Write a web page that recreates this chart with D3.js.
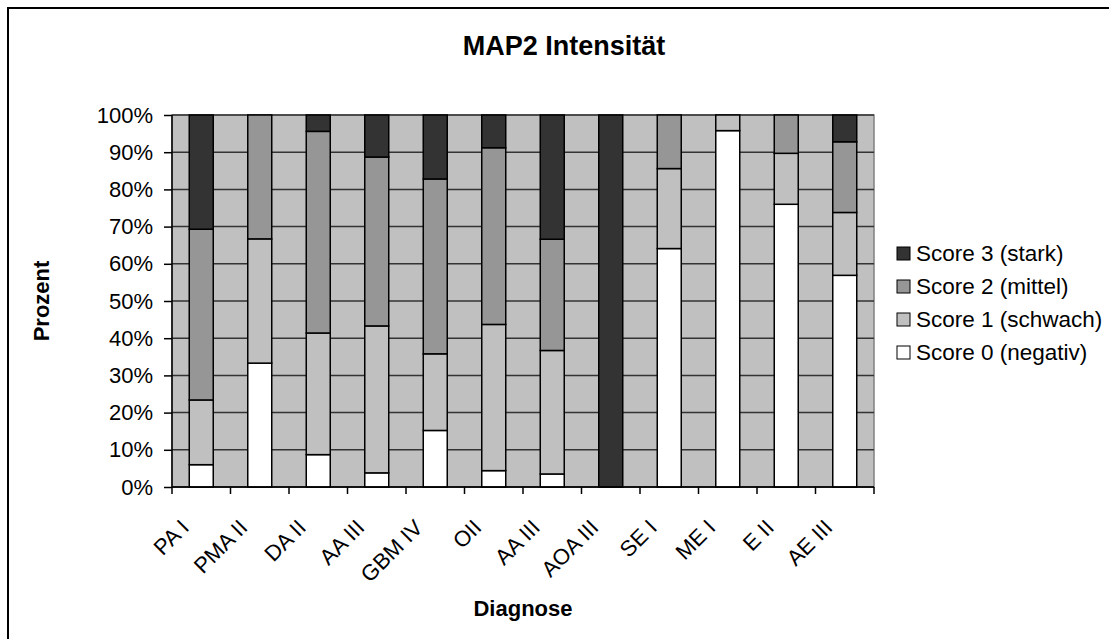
<!DOCTYPE html>
<html>
<head>
<meta charset="utf-8">
<script src="https://cdn.jsdelivr.net/npm/d3@7"></script>
<style>
  body { margin: 0; background: white; }
  svg { display: block; font-family: "Liberation Sans", Arial, sans-serif; }
  .axis text { font-size: 22px; fill: black; }
  .axis path, .axis line { stroke: black; stroke-width: 1.5; }
</style>
</head>
<body>
<div id="grafica"></div>
<script>
// datos (% por diagnóstico)
const diagnosen = ["PA I", "PMA II", "DA II", "AA III", "GBM IV", "OII", "AA III ", "AOA III", "SE I", "ME I", "E II", "AE III"]
const score0 = [6.0, 33.3, 8.7, 3.8, 15.2, 4.4, 3.5, 0, 64.1, 95.8, 76.0, 56.9]
const score1 = [17.4, 33.4, 32.7, 39.5, 20.6, 39.3, 33.2, 0, 21.5, 4.2, 13.7, 16.9]
const score2 = [45.9, 33.3, 54.2, 45.4, 47.0, 47.5, 29.9, 0, 14.4, 0, 10.3, 19.0]
const score3 = [30.7, 0, 4.4, 11.3, 17.2, 8.8, 33.4, 100, 0, 0, 0, 7.2]
const serien = ["Score 0 (negativ)", "Score 1 (schwach)", "Score 2 (mittel)", "Score 3 (stark)"]
const farben = ["#ffffff", "#c0c0c0", "#969696", "#333333"]
const yTicks = [0, 10, 20, 30, 40, 50, 60, 70, 80, 90, 100]

const anchoTotal = 1109
const altoTotal = 639
const margins = { top: 115, left: 172, right: 235, bottom: 152 }
const ancho = anchoTotal - margins.left - margins.right
const alto = altoTotal - margins.top - margins.bottom

const svg = d3.select("#grafica")
  .append("svg")
  .attr("width", anchoTotal)
  .attr("height", altoTotal)

// marco del gráfico
svg.append("rect")
  .attr("x", 8).attr("y", 8)
  .attr("width", 1120).attr("height", 660)
  .attr("fill", "white")
  .attr("stroke", "black")
  .attr("stroke-width", 2)

const g = svg.append("g")
  .attr("transform", `translate(${margins.left}, ${margins.top})`)

const data = diagnosen.map((d, i) => ({
  diagnose: d,
  "Score 0 (negativ)": score0[i],
  "Score 1 (schwach)": score1[i],
  "Score 2 (mittel)": score2[i],
  "Score 3 (stark)": score3[i],
}))

const x = d3.scaleBand()
  .domain(diagnosen)
  .range([0, ancho])
  .paddingInner(0.59)
  .paddingOuter(0.295)

const y = d3.scaleLinear()
  .domain([0, 100])
  .range([alto, 0])

const color = d3.scaleOrdinal().domain(serien).range(farben)

// fondo gris
g.append("rect")
  .attr("width", ancho)
  .attr("height", alto)
  .attr("fill", "#c0c0c0")
  .attr("stroke", "#808080")
  .attr("stroke-width", 1.5)

// rejilla
g.append("g")
  .selectAll("line")
  .data(yTicks)
  .enter()
  .append("line")
  .attr("x1", 0)
  .attr("x2", ancho)
  .attr("y1", (d) => y(d))
  .attr("y2", (d) => y(d))
  .attr("stroke", "#333")
  .attr("stroke-width", 1.5)

const stack = d3.stack().keys(serien)(data)

g.append("g")
  .selectAll("g")
  .data(stack)
  .enter()
  .append("g")
  .attr("fill", (d) => color(d.key))
  .selectAll("rect")
  .data((d) => d.filter((s) => s[1] - s[0] > 0))
  .enter()
  .append("rect")
  .attr("x", (d) => x(d.data.diagnose))
  .attr("y", (d) => y(d[1]))
  .attr("width", x.bandwidth())
  .attr("height", (d) => y(d[0]) - y(d[1]))
  .attr("stroke", "black")
  .attr("stroke-width", 1.5)

// ejes
const yAxis = d3.axisLeft(y)
  .tickValues(yTicks)
  .tickSize(8)
  .tickPadding(11)
  .tickFormat((d) => d + "%")
g.append("g").classed("axis", true).call(yAxis)
  .call((a) => a.select(".domain").attr("d", `M0,${alto}V0`))

// marcas del eje x entre categorías
const xAxisGroup = g.append("g")
  .classed("axis", true)
  .attr("transform", `translate(0, ${alto})`)
xAxisGroup.append("line")
  .attr("x1", 0).attr("x2", ancho)
  .attr("stroke", "black").attr("stroke-width", 1.5)
xAxisGroup.selectAll(".tk")
  .data(d3.range(diagnosen.length + 1))
  .enter()
  .append("line")
  .attr("class", "tk")
  .attr("x1", (i) => i * x.step())
  .attr("x2", (i) => i * x.step())
  .attr("y1", 0).attr("y2", 7)
  .attr("stroke", "black").attr("stroke-width", 1.5)
xAxisGroup.selectAll(".lbl")
  .data(diagnosen)
  .enter()
  .append("text")
  .attr("class", "lbl")
  .attr("text-anchor", "end")
  .attr("transform", (d) => `translate(${x(d) + x.bandwidth() / 2 - 11}, 42) rotate(-45)`)
  .text((d) => d.trim())

// títulos
svg.append("text")
  .attr("x", 564)
  .attr("y", 55)
  .attr("text-anchor", "middle")
  .attr("font-size", 27)
  .attr("font-weight", "bold")
  .text("MAP2 Intensität")

svg.append("text")
  .attr("x", margins.left + ancho / 2)
  .attr("y", 616)
  .attr("text-anchor", "middle")
  .attr("font-size", 22)
  .attr("font-weight", "bold")
  .text("Diagnose")

svg.append("text")
  .attr("transform", `translate(49, ${margins.top + alto / 2}) rotate(-90)`)
  .attr("text-anchor", "middle")
  .attr("font-size", 22)
  .attr("font-weight", "bold")
  .text("Prozent")

// leyenda
const leyenda = svg.append("g")
  .attr("transform", "translate(897, 253)")
const items = leyenda.selectAll("g")
  .data(serien.slice().reverse())
  .enter()
  .append("g")
  .attr("transform", (d, i) => `translate(0, ${i * 33})`)
items.append("rect")
  .attr("x", 0).attr("y", -6)
  .attr("width", 13).attr("height", 13)
  .attr("fill", (d) => color(d))
  .attr("stroke", "black")
items.append("text")
  .attr("x", 19)
  .attr("dy", "0.35em")
  .attr("font-size", 22.5)
  .text((d) => d)
</script>
</body>
</html>
